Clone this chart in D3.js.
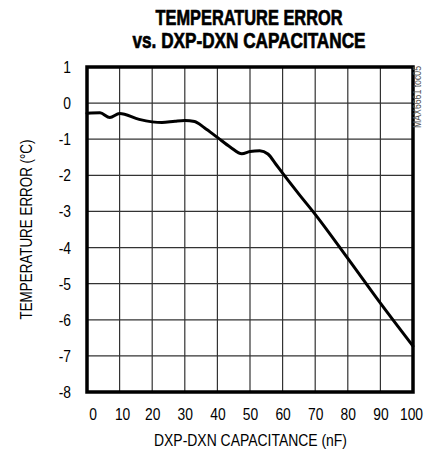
<!DOCTYPE html>
<html>
<head>
<meta charset="utf-8">
<script src="https://cdn.jsdelivr.net/npm/d3@7/dist/d3.min.js"></script>
<style>
  html, body { margin: 0; padding: 0; background: #fff; }
  svg { display: block; }
  text { font-family: "Liberation Sans Narrow", "Arial Narrow", "Liberation Sans", sans-serif; fill: #000; }
</style>
</head>
<body>
<script>
// ---- data ----
const capacitance = [0, 4, 7, 10, 16, 23, 27, 30, 33, 36, 40, 44, 47.5, 50, 53, 55.5, 58, 60, 65, 70, 80, 90, 100];
const tempError   = [-0.28, -0.27, -0.40, -0.29, -0.45, -0.54, -0.50, -0.48, -0.51, -0.68, -0.95, -1.22, -1.40, -1.34, -1.32, -1.41, -1.70, -1.94, -2.52, -3.08, -4.30, -5.54, -6.73];
const xTicks = [0, 10, 20, 30, 40, 50, 60, 70, 80, 90, 100];
const yTicks = [1, 0, -1, -2, -3, -4, -5, -6, -7, -8];
const titleLines = ["TEMPERATURE ERROR", "vs. DXP-DXN CAPACITANCE"];
const xLabel = "DXP-DXN CAPACITANCE (nF)";
const yLabel = "TEMPERATURE ERROR (°C)";
const sideNote = "MAX6661 toc05";

const W = 424, H = 452;
const m = { left: 87, right: 413, top: 67, bottom: 392 };

const svg = d3.select("body").append("svg").attr("width", W).attr("height", H);

const x = d3.scaleLinear().domain([0, 100]).range([m.left, m.right]);
const y = d3.scaleLinear().domain([-8, 1]).range([m.bottom, m.top]);

// horizontally condense text (narrow font look)
function squeeze(sel, sx) {
  sel.each(function () {
    const t = d3.select(this);
    const x0 = +t.attr("x") || 0;
    t.attr("x", x0 / sx).attr("transform", `scale(${sx},1)`);
  });
}

// title
svg.selectAll("text.title").data(titleLines).enter().append("text")
  .attr("class", "title")
  .attr("x", 249).attr("y", (d, i) => 25 + i * 23)
  .attr("text-anchor", "middle")
  .attr("font-size", 22.5).attr("font-weight", "bold")
  .attr("stroke", "#000").attr("stroke-width", 0.7)
  .attr("textLength", (d, i) => i === 0 ? 187 : 233)
  .attr("lengthAdjust", "spacingAndGlyphs")
  .text(d => d);

// grid
const grid = svg.append("g");
grid.selectAll("line.v").data(xTicks.slice(1, -1)).enter().append("line")
  .attr("x1", d => x(d)).attr("x2", d => x(d))
  .attr("y1", m.top).attr("y2", m.bottom)
  .attr("stroke", "#333").attr("stroke-width", 1.2);
grid.selectAll("line.h").data(yTicks.slice(1, -1)).enter().append("line")
  .attr("y1", d => y(d)).attr("y2", d => y(d))
  .attr("x1", m.left).attr("x2", m.right)
  .attr("stroke", "#333").attr("stroke-width", 1.2);

// axes (labels only)
const fmt = d => String(d);
const xAxis = svg.append("g").attr("transform", `translate(0,${m.bottom})`)
  .call(d3.axisBottom(x).tickValues(xTicks).tickSize(0).tickPadding(16).tickFormat(fmt));
xAxis.select(".domain").remove();
xAxis.selectAll("text").attr("font-size", 17).attr("font-family", null);
xAxis.selectAll(".tick").filter(d => d === 0).attr("transform", d => `translate(${x(d) + 6},0)`);
xAxis.selectAll(".tick").filter(d => d === 10).attr("transform", d => `translate(${x(d) + 3},0)`);
xAxis.selectAll(".tick").filter(d => d === 100).attr("transform", d => `translate(${x(d) - 1.5},0)`);
squeeze(xAxis.selectAll("text"), 0.815);

const yAxis = svg.append("g").attr("transform", `translate(${m.left},0)`)
  .call(d3.axisLeft(y).tickValues(yTicks).tickSize(0).tickPadding(16).tickFormat(fmt));
yAxis.select(".domain").remove();
yAxis.selectAll("text").attr("font-size", 17).attr("font-family", null);
squeeze(yAxis.selectAll("text"), 0.815);

// curve
const line = d3.line().x((d, i) => x(capacitance[i])).y(d => y(d)).curve(d3.curveMonotoneX);
svg.append("path").datum(tempError)
  .attr("d", line)
  .attr("fill", "none").attr("stroke", "#000").attr("stroke-width", 3)
  .attr("stroke-linejoin", "round").attr("stroke-linecap", "round");

// frame
svg.append("rect")
  .attr("x", m.left).attr("y", m.top)
  .attr("width", m.right - m.left).attr("height", m.bottom - m.top)
  .attr("fill", "none").attr("stroke", "#000").attr("stroke-width", 3.5);

// axis titles
svg.append("text")
  .attr("x", 250.5).attr("y", 446)
  .attr("text-anchor", "middle").attr("font-size", 16.5)
  .attr("textLength", 193).attr("lengthAdjust", "spacingAndGlyphs")
  .text(xLabel);

svg.append("text")
  .attr("transform", `translate(32,${(m.top + m.bottom) / 2}) rotate(-90)`)
  .attr("text-anchor", "middle").attr("font-size", 16.5)
  .attr("textLength", 180).attr("lengthAdjust", "spacingAndGlyphs")
  .text(yLabel);

svg.append("text")
  .attr("transform", `translate(421,66) rotate(-90)`)
  .attr("text-anchor", "end").attr("font-size", 10)
  .attr("textLength", 62).attr("lengthAdjust", "spacingAndGlyphs")
  .style("fill", "#555")
  .text(sideNote);
</script>
</body>
</html>
